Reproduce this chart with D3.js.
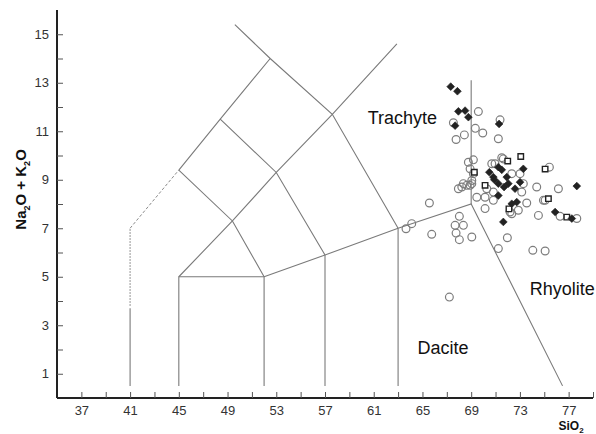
<!DOCTYPE html>
<html>
<head>
<meta charset="utf-8">
<script src="https://cdn.jsdelivr.net/npm/d3@7"></script>
<style>
  body { margin: 0; background: #fff; }
  text { font-family: "Liberation Sans", Arial, sans-serif; }
</style>
</head>
<body>
<svg id="chart" width="596" height="434"></svg>
<script>
// tick values
const xTicks = [37, 39, 41, 43, 45, 47, 49, 51, 53, 55, 57, 59, 61, 63, 65, 67, 69, 71, 73, 75, 77, 79];
const xLabels = [37, 41, 45, 49, 53, 57, 61, 65, 69, 73, 77];
const yTicks = [1, 2, 3, 4, 5, 6, 7, 8, 9, 10, 11, 12, 13, 14, 15];
const yLabels = [1, 3, 5, 7, 9, 11, 13, 15];

// TAS field boundaries (SiO2, Na2O+K2O)
const solidLines = [
  [[41, 0.5], [41, 3.7]],
  [[45, 0.5], [45, 5], [52, 5], [52, 0.5]],
  [[57, 0.5], [57, 5.9]],
  [[63, 0.5], [63, 7]],
  [[52, 5], [57, 5.9], [63, 7], [69, 8], [76.5, 0.5]],
  [[69, 8], [69, 13.1]],
  [[45, 5], [49.4, 7.3], [53, 9.3], [57.6, 11.7], [62.9, 14.6]],
  [[45, 9.4], [48.4, 11.5], [52.5, 14]],
  [[63, 7], [57.6, 11.7], [52.5, 14], [49.6, 15.4]],
  [[57, 5.9], [53, 9.3], [48.4, 11.5]],
  [[52, 5], [49.4, 7.3], [45, 9.4]]
];
const dashedLine = [[41, 7], [45, 9.4]];
const dottedLine = [[41, 3.8], [41, 7]];

// field names
const fieldLabels = [
  { name: "Trachyte", x: 60.5, y: 11.28 },
  { name: "Rhyolite", x: 73.8, y: 4.24 },
  { name: "Dacite", x: 64.6, y: 1.8 }
];

// samples: open circles
const circleSi = [69.59, 67.54, 69.34, 69.95, 68.44, 67.76, 71.37, 71.23, 68.77, 69.18, 68.91, 71.64, 75.42, 70.96,
  72.33, 73.01, 74.38, 76.16, 69.18, 69.05, 68.36, 67.95, 68.91, 71.51, 70.69, 70.28, 70.82, 70.14, 70.82,
  68.03, 67.68, 68.36, 67.76, 68.03, 69.05, 72.19, 74.93, 73.56, 72.87, 74.52, 76.3, 77.67, 73.28, 73.15,
  68.23, 68.64, 69.46, 70.14, 72.33, 75.07, 65.57, 63.65, 64.12, 65.76, 71.97, 71.23, 74.06, 75.07, 67.21, 69.05];
const circleAlk = [11.81, 11.35, 11.12, 10.93, 10.85, 10.66, 11.47, 10.69, 9.72, 9.82, 9.45, 9.86, 9.52, 9.66,
  9.25, 9.25, 8.7, 8.63, 9.25, 8.97, 8.84, 8.63, 8.77, 9.91, 9.66, 8.63, 8.49, 8.28, 8.15,
  7.49, 7.12, 7.12, 6.8, 6.53, 6.64, 7.67, 8.15, 8.04, 7.74, 7.53, 7.49, 7.4, 8.84, 8.49,
  8.7, 8.77, 8.28, 7.81, 7.6, 8.15, 8.04, 6.98, 7.19, 6.75, 6.61, 6.16, 6.09, 6.06, 4.16, 8.84];

// samples: open squares
const squareSi = [69.26, 72.0, 73.07, 75.07, 70.14, 72.1, 75.34, 76.85];
const squareAlk = [9.31, 9.77, 9.96, 9.44, 8.77, 7.8, 8.22, 7.46];

// samples: filled diamonds
const diamondSi = [67.32, 67.87, 67.95, 68.5, 68.77, 67.68, 71.29, 73.28, 70.49, 71.23, 71.51, 70.82, 71.92, 77.67,
  71.23, 72.05, 72.6, 71.23, 72.33, 71.64, 73.01, 72.74, 75.89, 77.26, 70.9, 71.7];
const diamondAlk = [12.84, 12.65, 11.82, 11.85, 11.58, 11.23, 11.3, 9.45, 9.31, 9.52, 9.41, 9.11, 9.11, 8.74,
  8.84, 8.84, 8.63, 8.35, 8.01, 7.26, 8.9, 8.08, 7.67, 7.4, 9.0, 8.7];

const svg = d3.select("#chart");
const x = d3.scaleLinear().domain([35, 79]).range([57, 593]);
const y = d3.scaleLinear().domain([0, 16]).range([398, 10]);

const line = d3.line().x(d => x(d[0])).y(d => y(d[1]));

// field boundaries
svg.append("g").selectAll("path")
  .data(solidLines)
  .enter().append("path")
    .attr("d", line)
    .attr("fill", "none")
    .attr("stroke", "#7a7a7a")
    .attr("stroke-width", 1.1);

svg.append("path")
  .attr("d", line(dashedLine))
  .attr("fill", "none")
  .attr("stroke", "#8a8a8a")
  .attr("stroke-width", 1)
  .attr("stroke-dasharray", "3,2");

svg.append("path")
  .attr("d", line(dottedLine))
  .attr("fill", "none")
  .attr("stroke", "#8a8a8a")
  .attr("stroke-width", 1.2)
  .attr("stroke-dasharray", "1.5,1.5");

// axes
const xAxis = svg.append("g")
  .attr("transform", `translate(0,${y(0)})`)
  .call(d3.axisBottom(x).tickValues(xTicks).tickSize(-6).tickPadding(8)
    .tickFormat(d => xLabels.includes(d) ? d : ""));
const yAxis = svg.append("g")
  .attr("transform", `translate(${x(35)},0)`)
  .call(d3.axisLeft(y).tickValues(yTicks).tickSize(-6).tickPadding(8)
    .tickFormat(d => yLabels.includes(d) ? d : ""));

[xAxis, yAxis].forEach(g => {
  g.select(".domain").attr("stroke", "#222").attr("stroke-width", 2);
  g.selectAll(".tick line").attr("stroke", "#555").attr("stroke-width", 1);
  g.selectAll(".tick text")
    .attr("fill", "#333")
    .style("font-size", "13px")
    .style("font-family", "'Liberation Sans', Arial, sans-serif");
});
xAxis.select(".domain").attr("d", `M${x(35)},0H${x(79)}`);
yAxis.select(".domain").attr("d", `M0,${y(0)}V${y(16)}`);

// field names
svg.append("g").selectAll("text")
  .data(fieldLabels)
  .enter().append("text")
    .attr("x", d => x(d.x))
    .attr("y", d => y(d.y))
    .style("font-size", "18px")
    .attr("fill", "#111")
    .text(d => d.name);

// axis titles
const yTitle = svg.append("text")
  .attr("transform", `translate(26,${y(8.6)}) rotate(-90)`)
  .attr("text-anchor", "middle")
  .style("font-size", "15px")
  .style("font-weight", "bold")
  .attr("fill", "#111");
yTitle.append("tspan").text("Na");
yTitle.append("tspan").attr("dy", 4).style("font-size", "9px").text("2");
yTitle.append("tspan").attr("dy", -4).text("O + K");
yTitle.append("tspan").attr("dy", 4).style("font-size", "9px").text("2");
yTitle.append("tspan").attr("dy", -4).text("O");

const xTitle = svg.append("text")
  .attr("x", x(77.2))
  .attr("y", 430)
  .attr("text-anchor", "middle")
  .style("font-size", "12px")
  .style("font-weight", "bold")
  .attr("fill", "#111");
xTitle.append("tspan").text("SiO");
xTitle.append("tspan").attr("dy", 3).style("font-size", "8px").text("2");

// samples
const circles = d3.zip(circleSi, circleAlk);
const squares = d3.zip(squareSi, squareAlk);
const diamonds = d3.zip(diamondSi, diamondAlk);

svg.append("g").selectAll("circle")
  .data(circles)
  .enter().append("circle")
    .attr("cx", d => x(d[0]))
    .attr("cy", d => y(d[1]))
    .attr("r", 3.9)
    .attr("fill", "none")
    .attr("stroke", "#7d7d7d")
    .attr("stroke-width", 1.2);

svg.append("g").selectAll("path")
  .data(squares)
  .enter().append("path")
    .attr("d", d3.symbol().type(d3.symbolSquare).size(30))
    .attr("transform", d => `translate(${x(d[0])},${y(d[1])})`)
    .attr("fill", "#fff")
    .attr("stroke", "#222")
    .attr("stroke-width", 1.4);

svg.append("g").selectAll("path")
  .data(diamonds)
  .enter().append("path")
    .attr("d", d3.symbol().type(d3.symbolSquare).size(30))
    .attr("transform", d => `translate(${x(d[0])},${y(d[1])}) rotate(45)`)
    .attr("fill", "#222")
    .attr("stroke", "#222")
    .attr("stroke-width", 0.6);
</script>
</body>
</html>
